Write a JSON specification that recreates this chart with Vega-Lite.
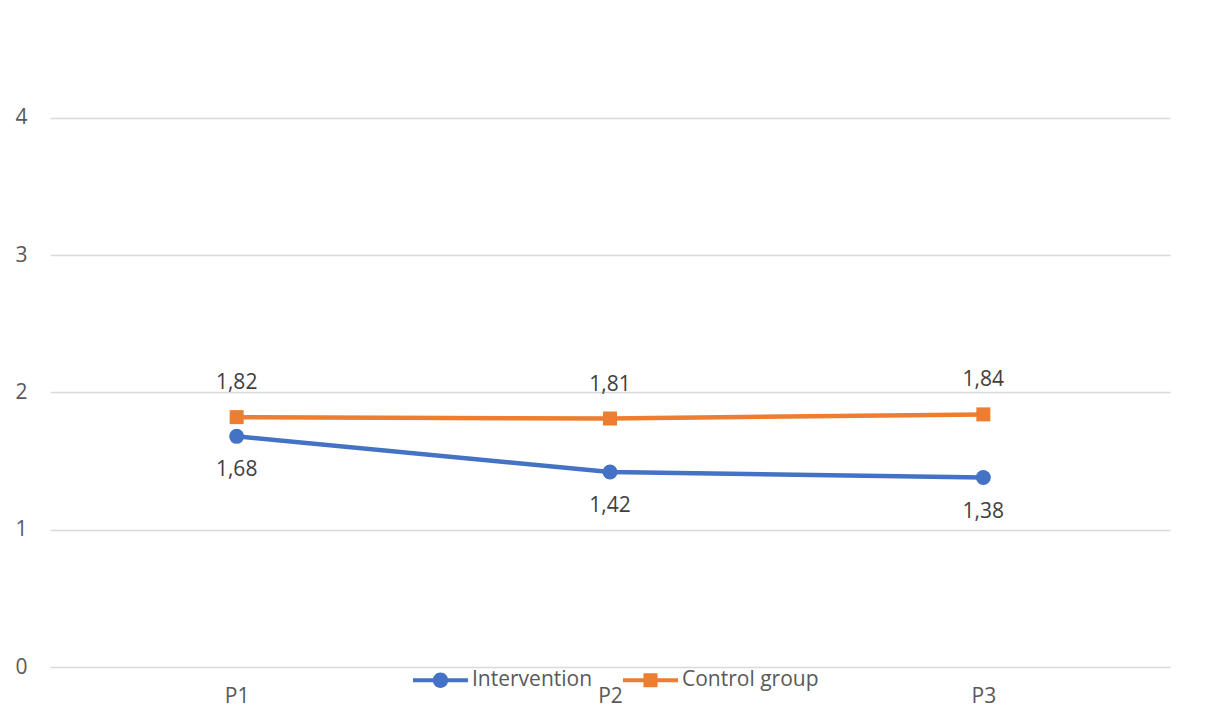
{
  "$schema": "https://vega.github.io/schema/vega-lite/v6.json",
  "width": 1120,
  "height": 659,
  "autosize": {"type": "none"},
  "padding": {"left": 50, "top": 8, "right": 39, "bottom": 48},
  "config": {
    "locale": {"number": {"decimal": ",", "thousands": ".", "grouping": [3], "currency": ["", "€"]}},
    "view": {"stroke": null},
    "font": "Open Sans",
    "text": {"font": "Open Sans"}
  },
  "data": {
    "values": [
      {"period": "P1", "group": "Intervention", "value": 1.68},
      {"period": "P2", "group": "Intervention", "value": 1.42},
      {"period": "P3", "group": "Intervention", "value": 1.38},
      {"period": "P1", "group": "Control group", "value": 1.82},
      {"period": "P2", "group": "Control group", "value": 1.81},
      {"period": "P3", "group": "Control group", "value": 1.84}
    ]
  },
  "encoding": {
    "x": {
      "field": "period",
      "type": "ordinal",
      "scale": {"type": "point", "padding": 0.5},
      "axis": {
        "title": null,
        "labelAngle": 0,
        "labelFontSize": 21,
        "labelColor": "#595959",
        "labelPadding": 18,
        "ticks": false,
        "domain": false,
        "grid": false
      }
    },
    "y": {
      "field": "value",
      "type": "quantitative",
      "scale": {"domain": [0, 4.8], "nice": false, "zero": true},
      "axis": {
        "title": null,
        "values": [0, 1, 2, 3, 4],
        "labelFontSize": 21,
        "labelColor": "#595959",
        "labelPadding": 23,
        "ticks": false,
        "domain": false,
        "grid": true,
        "gridColor": "#D9D9D9",
        "gridWidth": 1.5
      }
    },
    "color": {
      "field": "group",
      "type": "nominal",
      "scale": {"domain": ["Intervention", "Control group"], "range": ["#4472C4", "#ED7D31"]},
      "legend": {
        "title": null,
        "orient": "none",
        "direction": "horizontal",
        "legendX": 363,
        "legendY": 644.5,
        "padding": 0,
        "symbolSize": 3025,
        "symbolOpacity": 1,
        "symbolStrokeWidth": 0,
        "labelFontSize": 21,
        "labelColor": "#595959",
        "labelOffset": 4,
        "columnPadding": 30,
        "encode": {
          "symbols": {
            "update": {
              "shape": {"signal": "datum.value === 'Intervention' ? 'M-1,-0.075H1V0.075H-1Z M-0.28,0A0.28,0.28 0 1,1 0.28,0A0.28,0.28 0 1,1 -0.28,0Z' : 'M-1,-0.075H1V0.075H-1Z M-0.255,-0.255H0.255V0.255H-0.255Z'"},
              "fill": {"signal": "datum.value === 'Intervention' ? '#4472C4' : '#ED7D31'"},
              "strokeWidth": {"value": 0},
              "opacity": {"value": 1}
            }
          }
        }
      }
    }
  },
  "layer": [
    {"mark": {"type": "line", "strokeWidth": 4.5}},
    {
      "transform": [{"filter": "datum.group === 'Intervention'"}],
      "mark": {"type": "point", "shape": "circle", "filled": true, "opacity": 1, "size": 225}
    },
    {
      "transform": [{"filter": "datum.group === 'Control group'"}],
      "mark": {"type": "point", "shape": "square", "filled": true, "opacity": 1, "size": 196}
    },
    {
      "transform": [{"filter": "datum.group === 'Control group'"}],
      "mark": {"type": "text", "dy": -34, "fontSize": 21, "baseline": "middle"},
      "encoding": {"text": {"field": "value", "type": "quantitative", "format": ".2f"}, "color": {"value": "#404040"}}
    },
    {
      "transform": [{"filter": "datum.group === 'Intervention'"}],
      "mark": {"type": "text", "dy": 34, "fontSize": 21, "baseline": "middle"},
      "encoding": {"text": {"field": "value", "type": "quantitative", "format": ".2f"}, "color": {"value": "#404040"}}
    }
  ]
}
